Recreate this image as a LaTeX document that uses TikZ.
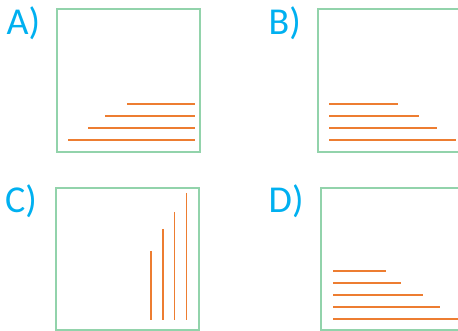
\documentclass[tikz,border=0pt]{standalone}
\usepackage{fontspec}
\setmainfont{Carlito}
\definecolor{frame}{HTML}{92D3AB}
\definecolor{bar}{HTML}{ED7D31}
\definecolor{lab}{HTML}{00B0F0}
\begin{document}
\begin{tikzpicture}[x=1pt,y=-1pt,
   panel/.style={draw=frame,line width=1.5pt},
   stick/.style={draw=bar,line width=1.6pt},
   lbl/.style={anchor=base west,inner sep=0pt,text=lab,font=\fontsize{38}{38}\selectfont}]
  \useasboundingbox (0,0) rectangle (458,331);
  \clip (0,0) rectangle (458,331);
  % panel A
  \draw[panel] (57,9) rectangle (200,152);
  \node[lbl] (la) at (6.5,35) {A)};
  \foreach \s/\y in {127/104,105/116,88/128,68/140}{\draw[stick] (\s,\y) -- (195,\y);}
  % panel B
  \draw[panel] (318,9) rectangle (470,152);
  \node[lbl] (lb) at (268.5,35) {B)};
  \foreach \e/\y in {398/104,419/116,437/128,456/140}{\draw[stick] (329,\y) -- (\e,\y);}
  % panel C
  \draw[panel] (56,188) rectangle (199,330);
  \node[lbl] (lc) at (5,213) {C)};
  \foreach \x/\t in {151/251,163/229,174.5/212,186.5/193}{\draw[stick] (\x,\t) -- (\x,319.5);}
  % panel D
  \draw[panel] (321,188) rectangle (470,330);
  \node[lbl] (ld) at (268.5,213) {D)};
  \foreach \e/\y in {386/271,401/283,423/295,440/307,460/319}{\draw[stick] (333,\y) -- (\e,\y);}
\end{tikzpicture}
\end{document}
